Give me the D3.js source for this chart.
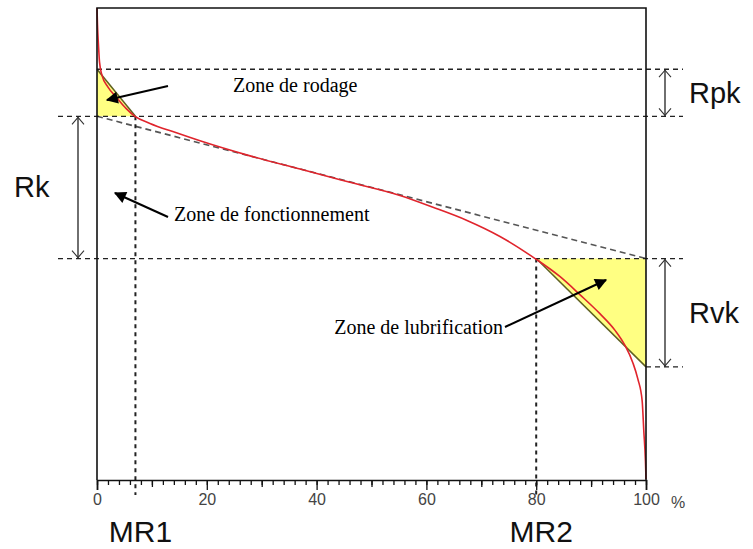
<!DOCTYPE html>
<html>
<head>
<meta charset="utf-8">
<script src="https://cdn.jsdelivr.net/npm/d3@7"></script>
<style>
  body { margin: 0; background: #fff; }
  svg { display: block; }
</style>
</head>
<body>
<div id="chart"></div>
<script>
// courbe d'Abbott : taux de portance (%) / hauteur relative du profil
const curveX = [0, 0.09, 0.27, 0.46, 0.91, 2.0, 3.64, 5.28, 6.92, 9.65, 14.2, 18.76, 27.87,
  36.97, 46.08, 55.19, 61.2, 67.4, 73.4, 79.8, 84.3, 88.0, 91.6, 94.4, 96.2, 97.6, 98.5,
  99.3, 99.6, 99.9, 100];
const curveY = [100, 96.4, 92.1, 88.5, 85.7, 83.2, 80.9, 78.7, 77.0, 75.5, 73.6, 71.8, 68.6,
  65.8, 63.0, 60.2, 57.7, 54.9, 51.5, 46.8, 43.0, 39.1, 35.1, 31.5, 28.3, 24.7, 21.3,
  16.6, 10.2, 3.8, 0];

const mrValues = [7, 80];              // MR1, MR2
const mrLabels = ["MR1", "MR2"];
const levels = [87, 77, 46.8, 23.8];   // haut Rpk, haut Rk, bas Rk, bas Rvk
const xTicks = [0, 20, 40, 60, 80, 100];

const W = 753, H = 549;
const margin = {top: 8, right: 107, bottom: 70, left: 97},
    width = W - margin.left - margin.right,
    height = H - margin.top - margin.bottom;

const svg = d3.select("#chart").append("svg")
    .attr("width", W)
    .attr("height", H);

const x = d3.scaleLinear().domain([0, 100]).range([margin.left, margin.left + width]);
const y = d3.scaleLinear().domain([0, 100]).range([margin.top + height, margin.top]);

const sans = "Arial, 'Liberation Sans', sans-serif";
const serif = "'Times New Roman', 'Liberation Serif', serif";

svg.append("defs").append("marker")
    .attr("id", "head")
    .attr("viewBox", "0 0 10 10")
    .attr("refX", 9).attr("refY", 5)
    .attr("markerWidth", 7).attr("markerHeight", 6)
    .attr("markerUnits", "strokeWidth")
    .attr("orient", "auto")
    .append("path")
    .attr("d", "M0,0L10,5L0,10Z")
    .attr("fill", "#000");

// triangles jaunes (Rpk / Rvk)
const triTop = [[0, levels[0]], [0, levels[1]], [mrValues[0], levels[1]]];
const triBot = [[mrValues[1], levels[2]], [100, levels[2]], [100, levels[3]]];
[triTop, triBot].forEach(function (t) {
    svg.append("path")
        .attr("d", "M" + t.map(p => x(p[0]) + "," + y(p[1])).join("L") + "Z")
        .attr("fill", "#ffff82");
});
svg.append("line")
    .attr("x1", x(0)).attr("y1", y(levels[0]))
    .attr("x2", x(mrValues[0])).attr("y2", y(levels[1]))
    .attr("stroke", "#5f6020").attr("stroke-width", 1.5);
svg.append("line")
    .attr("x1", x(mrValues[1])).attr("y1", y(levels[2]))
    .attr("x2", x(100)).attr("y2", y(levels[3]))
    .attr("stroke", "#5f6020").attr("stroke-width", 1.5);

// droite equivalente (secante 40 %)
svg.append("line")
    .attr("x1", x(0)).attr("y1", y(levels[1]))
    .attr("x2", x(100)).attr("y2", y(levels[2]))
    .attr("stroke", "#555").attr("stroke-width", 1.6)
    .attr("stroke-dasharray", "6,4");

// lignes horizontales en pointilles
const hLines = [
    [x(0), 683, levels[0]],
    [58, 683, levels[1]],
    [58, 683, levels[2]],
    [x(100), 683, levels[3]]
];
svg.selectAll(".hline").data(hLines).enter().append("line")
    .attr("class", "hline")
    .attr("x1", d => d[0]).attr("x2", d => d[1])
    .attr("y1", d => y(d[2])).attr("y2", d => y(d[2]))
    .attr("stroke", "#222").attr("stroke-width", 1.3)
    .attr("stroke-dasharray", "5,4");

// lignes verticales MR1 / MR2
svg.selectAll(".vline").data(mrValues).enter().append("line")
    .attr("class", "vline")
    .attr("x1", d => x(d)).attr("x2", d => x(d))
    .attr("y1", (d, i) => y(levels[i === 0 ? 1 : 2]))
    .attr("y2", 495)
    .attr("stroke", "#222").attr("stroke-width", 2)
    .attr("stroke-dasharray", "4,4");

// courbe
const pts = curveX.map((d, i) => [d, curveY[i]]);
svg.append("path")
    .datum(pts)
    .attr("fill", "none")
    .attr("stroke", "#e0242c")
    .attr("stroke-width", 1.6)
    .attr("d", d3.line().x(d => x(d[0])).y(d => y(d[1])).curve(d3.curveMonotoneX));

// cadre
svg.append("path")
    .attr("d", `M${x(0)},${y(0) + 1}V${y(100)}H${x(100)}V${y(0) + 1}`)
    .attr("fill", "none")
    .attr("stroke", "#111").attr("stroke-width", 1.6);

// axe X
const axisG = svg.append("g").attr("transform", `translate(0, ${y(0) + 1})`);
axisG.append("g")
    .call(d3.axisBottom(x).tickValues(d3.range(0, 101, 2)).tickSize(5).tickFormat(""))
    .call(g => g.select(".domain").remove());
axisG.append("g")
    .call(d3.axisBottom(x).tickValues(d3.range(10, 101, 20)).tickSize(7).tickFormat(""))
    .call(g => g.select(".domain").remove());
axisG.append("g")
    .call(d3.axisBottom(x).tickValues(xTicks).tickSize(10).tickPadding(4).tickFormat(d => d))
    .call(g => g.select(".domain").attr("stroke-width", 1.6).attr("stroke", "#111"));
axisG.selectAll(".tick line").attr("stroke", "#111").attr("stroke-width", 1.3);
axisG.selectAll(".tick text")
    .attr("font-family", sans).attr("font-size", 16).attr("fill", "#444");
axisG.append("text")
    .attr("x", x(100) + 25).attr("y", 28)
    .attr("font-family", sans).attr("font-size", 16).attr("fill", "#444")
    .text("%");

// MR1 / MR2
svg.selectAll(".mr").data(mrValues).enter().append("text")
    .attr("class", "mr")
    .attr("x", d => x(d) + 5)
    .attr("y", 542)
    .attr("text-anchor", "middle")
    .attr("font-family", sans).attr("font-size", 30).attr("fill", "#111")
    .text((d, i) => mrLabels[i]);

// cotes Rpk / Rk / Rvk
function dimArrow(xp, v1, v2) {
    const y1 = y(v1), y2 = y(v2);
    svg.append("line")
        .attr("x1", xp).attr("x2", xp).attr("y1", y1).attr("y2", y2)
        .attr("stroke", "#222").attr("stroke-width", 1.3);
    svg.append("path")
        .attr("d", `M${xp - 6},${y1 + 8}L${xp},${y1 + 1}L${xp + 6},${y1 + 8}` +
                   `M${xp - 6},${y2 - 8}L${xp},${y2 - 1}L${xp + 6},${y2 - 8}`)
        .attr("fill", "none").attr("stroke", "#333").attr("stroke-width", 1.1);
}
dimArrow(665, levels[0], levels[1]);
dimArrow(78, levels[1], levels[2]);
dimArrow(665, levels[2], levels[3]);

const dimLabels = [
    {t: "Rpk", x: 689, v: (levels[0] + levels[1]) / 2},
    {t: "Rk", x: 14, v: (levels[1] + levels[2]) / 2},
    {t: "Rvk", x: 689, v: (levels[2] + levels[3]) / 2}
];
svg.selectAll(".dim").data(dimLabels).enter().append("text")
    .attr("class", "dim")
    .attr("x", d => d.x)
    .attr("y", d => y(d.v) + 10)
    .attr("font-family", sans).attr("font-size", 29).attr("fill", "#111")
    .text(d => d.t);

// annotations
const notes = [
    {t: "Zone de rodage", tx: 233, ty: 92, anchor: "start", a: [168, 86, 107, 100]},
    {t: "Zone de fonctionnement", tx: 174, ty: 221, anchor: "start", a: [168, 217, 115, 193]},
    {t: "Zone de lubrification", tx: 503, ty: 334, anchor: "end", a: [505, 327, 606, 280]}
];
notes.forEach(function (n) {
    svg.append("text")
        .attr("x", n.tx).attr("y", n.ty)
        .attr("text-anchor", n.anchor)
        .attr("font-family", serif).attr("font-size", 20).attr("fill", "#000")
        .text(n.t);
    svg.append("line")
        .attr("x1", n.a[0]).attr("y1", n.a[1])
        .attr("x2", n.a[2]).attr("y2", n.a[3])
        .attr("stroke", "#000").attr("stroke-width", 2)
        .attr("marker-end", "url(#head)");
});
</script>
</body>
</html>
